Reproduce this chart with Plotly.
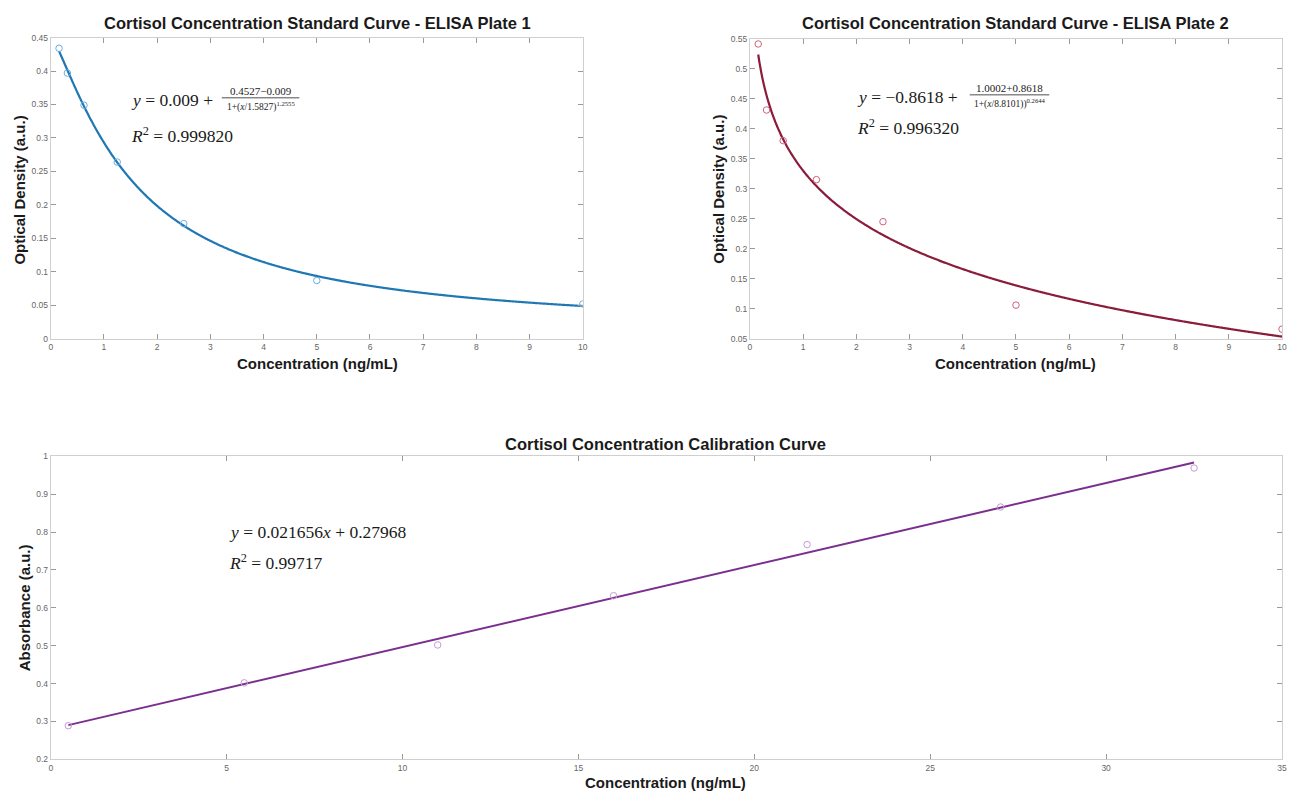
import numpy as np
import plotly.graph_objects as go

W, H = 1292, 796

# ---------------- data ----------------
plate1_conc = [0.156, 0.3125, 0.625, 1.25, 2.5, 5, 10]
plate1_od = [0.434, 0.397, 0.349, 0.264, 0.172, 0.087, 0.052]
plate1_fit = dict(a=0.4527, d=0.009, c=1.5827, b=1.2555)

plate2_conc = [0.156, 0.3125, 0.625, 1.25, 2.5, 5, 10]
plate2_od = [0.541, 0.431, 0.380, 0.315, 0.245, 0.106, 0.066]
plate2_fit = dict(a=1.0002, d=-0.8618, c=8.8101, b=0.2644)

calib_conc = [0.5, 5.5, 11, 16, 21.5, 27, 32.5]
calib_abs = [0.289, 0.402, 0.502, 0.632, 0.767, 0.866, 0.969]
calib_slope, calib_int = 0.021656, 0.27968

p1_yticks = [0, 0.05, 0.1, 0.15, 0.2, 0.25, 0.3, 0.35, 0.4, 0.45]
p1_ytext = ["0", "0.05", "0.1", "0.15", "0.2", "0.25", "0.3", "0.35", "0.4", "0.45"]
p2_yticks = [0.05, 0.1, 0.15, 0.2, 0.25, 0.3, 0.35, 0.4, 0.45, 0.5, 0.55]
p2_ytext = ["0.05", "0.1", "0.15", "0.2", "0.25", "0.3", "0.35", "0.4", "0.45", "0.5", "0.55"]
top_xticks = list(range(0, 11))
cal_xticks = [0, 5, 10, 15, 20, 25, 30, 35]
cal_yticks = [0.2, 0.3, 0.4, 0.5, 0.6, 0.7, 0.8, 0.9, 1.0]
cal_ytext = ["0.2", "0.3", "0.4", "0.5", "0.6", "0.7", "0.8", "0.9", "1"]

C1_LINE, C1_MK = "#1f78b4", "#6aaedc"
C2_LINE, C2_MK = "#8c1c3c", "#d0607a"
C3_LINE, C3_MK = "#7a2f8e", "#c49ad4"


def four_pl(x, p):
    x = np.asarray(x, dtype=float)
    return p["d"] + (p["a"] - p["d"]) / (1 + (x / p["c"]) ** p["b"])


def px(xp):
    return xp / W


def py(yp):
    return 1 - yp / H


fig = go.Figure()

# plate 1
xf1 = np.linspace(min(plate1_conc), max(plate1_conc), 400)
fig.add_trace(go.Scatter(x=xf1, y=four_pl(xf1, plate1_fit), mode="lines",
                         line=dict(color=C1_LINE, width=2.2, shape="spline"), xaxis="x", yaxis="y"))
fig.add_trace(go.Scatter(x=plate1_conc, y=plate1_od, mode="markers",
                         marker=dict(symbol="circle-open", size=6.5, color=C1_MK, line=dict(width=1)),
                         xaxis="x", yaxis="y"))
# plate 2
xf2 = np.linspace(min(plate2_conc), max(plate2_conc), 400)
fig.add_trace(go.Scatter(x=xf2, y=four_pl(xf2, plate2_fit), mode="lines",
                         line=dict(color=C2_LINE, width=2.2, shape="spline"), xaxis="x2", yaxis="y2"))
fig.add_trace(go.Scatter(x=plate2_conc, y=plate2_od, mode="markers",
                         marker=dict(symbol="circle-open", size=6.5, color=C2_MK, line=dict(width=1)),
                         xaxis="x2", yaxis="y2"))
# calibration
xf3 = np.array([min(calib_conc), max(calib_conc)])
fig.add_trace(go.Scatter(x=xf3, y=calib_slope * xf3 + calib_int, mode="lines",
                         line=dict(color=C3_LINE, width=2), xaxis="x3", yaxis="y3"))
fig.add_trace(go.Scatter(x=calib_conc, y=calib_abs, mode="markers",
                         marker=dict(symbol="circle-open", size=6.5, color=C3_MK, line=dict(width=1)),
                         xaxis="x3", yaxis="y3"))

tickfont = dict(family="Liberation Sans, Arial", size=8.5, color="#666")
axcommon = dict(showgrid=False, zeroline=False, showline=True, linecolor="#cfcfcf", linewidth=1,
                mirror="ticks", ticks="inside", tickcolor="#9a9a9a", ticklen=5, tickwidth=1,
                tickfont=tickfont)

fig.update_layout(
    width=W, height=H, margin=dict(l=0, r=0, t=0, b=0),
    paper_bgcolor="white", plot_bgcolor="white", showlegend=False,
    xaxis=dict(domain=[px(49), px(584)], range=[0, 10], tickvals=top_xticks, anchor="y", **axcommon),
    yaxis=dict(domain=[py(338), py(33)], range=[0, 0.45], tickvals=p1_yticks, ticktext=p1_ytext,
               anchor="x", **axcommon),
    xaxis2=dict(domain=[px(752), px(1287)], range=[0, 10], tickvals=top_xticks, anchor="y2", **axcommon),
    yaxis2=dict(domain=[py(338), py(34)], range=[0.05, 0.55], tickvals=p2_yticks, ticktext=p2_ytext,
                anchor="x2", **axcommon),
    xaxis3=dict(domain=[px(49), px(1287)], range=[0, 35], tickvals=cal_xticks, anchor="y3", **axcommon),
    yaxis3=dict(domain=[py(764), py(457)], range=[0.2, 1.0], tickvals=cal_yticks, ticktext=cal_ytext,
                anchor="x3", **axcommon),
)

TF = "Liberation Sans, Arial"
SERIF = "Liberation Serif, Times New Roman, serif"
ann = []
shapes = []


def text(x, y, s, size, bold=False, angle=0, xanchor="center", family=TF, color="#1a1a1a"):
    ann.append(dict(x=px(x), y=py(y), xref="paper", yref="paper", text=("<b>%s</b>" % s) if bold else s,
                    showarrow=False, xanchor=xanchor, yanchor="middle", textangle=angle,
                    font=dict(family=family, size=size, color=color)))


# titles
text(317, 18, "Cortisol Concentration Standard Curve - ELISA Plate 1", 16.5, bold=True)
text(1019, 18, "Cortisol Concentration Standard Curve - ELISA Plate 2", 16.5, bold=True)
text(667, 445, "Cortisol Concentration Calibration Curve", 16.5, bold=True)
# axis titles
text(317, 363, "Concentration (ng/mL)", 15, bold=True)
text(1019, 363, "Concentration (ng/mL)", 15, bold=True)
text(667, 787, "Concentration (ng/mL)", 15, bold=True)
text(18, 187, "Optical Density (a.u.)", 15, bold=True, angle=-90)
text(721, 187, "Optical Density (a.u.)", 15, bold=True, angle=-90)
text(22, 610, "Absorbance (a.u.)", 15, bold=True, angle=-90)


def fraction(x_lead, y, lead, num, den, bar_x0, bar_x1):
    text(x_lead, y, lead, 17.5, xanchor="left", family=SERIF)
    cx = (bar_x0 + bar_x1) / 2
    text(cx, y - 9, num, 11, family=SERIF)
    text(cx, y + 7, den, 9.5, family=SERIF)
    shapes.append(dict(type="line", xref="paper", yref="paper", x0=px(bar_x0), x1=px(bar_x1),
                       y0=py(y - 2), y1=py(y - 2), line=dict(color="#222", width=0.8)))


# plate 1 equation
fraction(128, 96, "<i>y</i> = %g +" % plate1_fit["d"],
         "%g−%g" % (plate1_fit["a"], plate1_fit["d"]),
         "1+(<i>x</i>/%g)<sup>%g</sup>" % (plate1_fit["c"], plate1_fit["b"]), 221, 299)
text(128, 132, "<i>R</i><sup>2</sup> = 0.999820", 17.5, xanchor="left", family=SERIF)

# plate 2 equation
fraction(858, 93, "<i>y</i> = −%g +" % abs(plate2_fit["d"]),
         "%g+%g" % (plate2_fit["a"], abs(plate2_fit["d"])),
         "1+(<i>x</i>/%g))<sup>%g</sup>" % (plate2_fit["c"], plate2_fit["b"]), 973, 1053)
text(858, 124, "<i>R</i><sup>2</sup> = 0.996320", 17.5, xanchor="left", family=SERIF)

# calibration equation
text(226, 534, "<i>y</i> = %g<i>x</i> + %g" % (calib_slope, calib_int), 17.5, xanchor="left", family=SERIF)
text(226, 564, "<i>R</i><sup>2</sup> = 0.99717", 17.5, xanchor="left", family=SERIF)

fig.update_layout(annotations=ann, shapes=shapes)
fig.write_html("out.html")
